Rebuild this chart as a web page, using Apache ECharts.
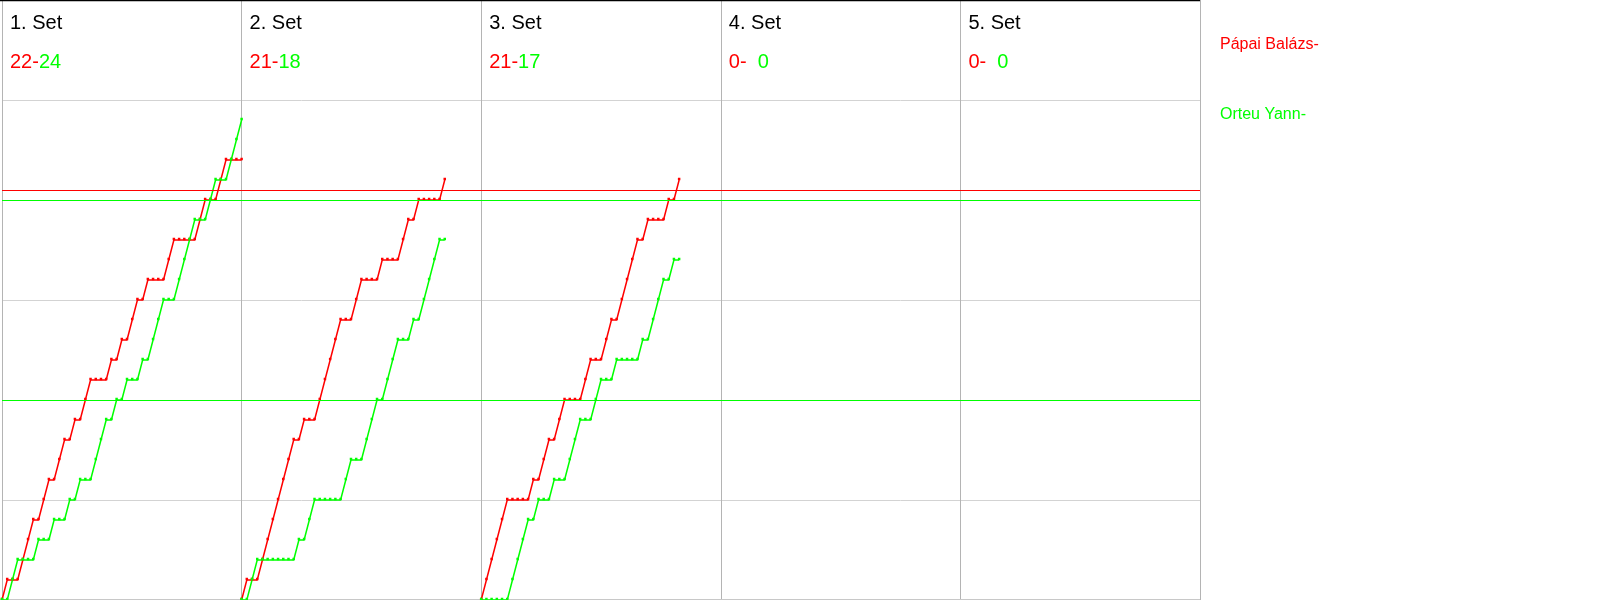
<!DOCTYPE html>
<html>
<head>
<meta charset="utf-8">
<script src="https://cdn.jsdelivr.net/npm/echarts@6/dist/echarts.min.js"></script>
<style>
html,body{margin:0;padding:0;background:#fff;}
#chart{width:1600px;height:600px;}
</style>
</head>
<body>
<div id="chart"></div>
<script>
// ---- data ----
const RALLY_SLOTS = 46;            // x units per set panel
const SCORE_MAX = 30;              // y axis top
const setLabels = ['1. Set', '2. Set', '3. Set', '4. Set', '5. Set'];
const redFinal = [22, 21, 21, 0, 0];
const greenFinal = [24, 18, 17, 0, 0];
const playerRed = 'Pápai Balázs-';
const playerGreen = 'Orteu Yann-';

// cumulative score after each rally (index 0 = start of set)
const set1Red   = [0,1,1,1,2,3,4,4,5,6,6,7,8,8,9,9,10,11,11,11,11,12,12,13,13,14,15,15,16,16,16,16,17,18,18,18,18,18,19,20,20,20,21,22,22,22,22];
const set1Green = [0,0,1,2,2,2,2,3,3,3,4,4,4,5,5,6,6,6,7,8,9,9,10,10,11,11,11,12,12,13,14,15,15,15,16,17,18,19,19,19,20,21,21,21,22,23,24];
const set2Red   = [0,1,1,1,2,3,4,5,6,7,8,8,9,9,9,10,11,12,13,14,14,14,15,16,16,16,16,17,17,17,17,18,19,19,20,20,20,20,20,21];
const set2Green = [0,0,1,2,2,2,2,2,2,2,2,3,3,4,5,5,5,5,5,5,6,7,7,7,8,9,10,10,11,12,13,13,13,14,14,15,16,17,18,18];
const set3Red   = [0,1,2,3,4,5,5,5,5,5,6,6,7,8,8,9,10,10,10,10,11,12,12,12,13,14,14,15,16,17,18,18,19,19,19,19,20,20,21];
const set3Green = [0,0,0,0,0,0,1,2,3,4,4,5,5,5,6,6,6,7,8,9,9,9,10,11,11,11,12,12,12,12,12,13,13,14,15,16,16,17,17];
const set4Red = [];
const set4Green = [];
const set5Red = [];
const set5Green = [];

const redRefLines = [20.5];
const greenRefLines = [20, 10];

// ---- build ----
const RED = '#ff0000', GREEN = '#00ff00';
const FONT = '"Liberation Sans", Arial, sans-serif';
const redSets = [set1Red, set2Red, set3Red, set4Red, set5Red];
const greenSets = [set1Green, set2Green, set3Green, set4Green, set5Green];

function lineSeries(name, arr, k, color, refs) {
  const s = {
    type: 'line',
    name: name,
    data: arr.map((v, i) => [k * RALLY_SLOTS + i, v]),
    symbol: 'rect',
    symbolSize: 2.5,
    symbolOffset: [0, -1],
    showSymbol: true,
    lineStyle: { color: color, width: 1.5 },
    itemStyle: { color: color },
    emphasis: { disabled: true },
    silent: true,
    animation: false,
    z: 3
  };
  if (refs && refs.length) {
    s.markLine = {
      silent: true,
      symbol: ['none', 'none'],
      label: { show: false },
      lineStyle: { color: color, width: 1.2, type: 'solid' },
      emphasis: { disabled: true },
      animation: false,
      data: refs.map(v => ({ yAxis: v }))
    };
  }
  return s;
}

const series = [];
for (let k = 0; k < setLabels.length; k++) {
  series.push(lineSeries(playerRed, redSets[k], k, RED, k === 0 ? redRefLines : null));
  series.push(lineSeries(playerGreen, greenSets[k], k, GREEN, k === 0 ? greenRefLines : null));
}

const GRID_LEFT = 2, GRID_W = 1198, GRID_H = 600;
const panelW = GRID_W / setLabels.length;
const graphics = [];
setLabels.forEach((lab, k) => {
  const x0 = GRID_LEFT + k * panelW + 8;
  graphics.push({
    type: 'text', x: x0, y: 23, silent: true, z: 10,
    style: { text: lab, fill: '#000', font: '20px ' + FONT, verticalAlign: 'middle', align: 'left' }
  });
  graphics.push({
    type: 'text', x: x0, y: 62.5, silent: true, z: 10,
    style: {
      text: '{r|' + redFinal[k] + '-}{g|' + greenFinal[k] + '}',
      verticalAlign: 'middle', align: 'left',
      rich: {
        r: { fill: RED, fontSize: 20, fontFamily: FONT },
        g: { fill: GREEN, fontSize: 20, fontFamily: FONT, width: 22.24, align: 'right' }
      }
    }
  });
});
graphics.push({
  type: 'text', x: 1220, y: 45, silent: true,
  style: { text: playerRed, fill: RED, font: '16px ' + FONT, verticalAlign: 'middle' }
});
graphics.push({
  type: 'text', x: 1220, y: 115, silent: true,
  style: { text: playerGreen, fill: GREEN, font: '16px ' + FONT, verticalAlign: 'middle' }
});
graphics.push({
  type: 'line', silent: true, z: 20,
  shape: { x1: 0, y1: 0.5, x2: 1200, y2: 0.5 },
  style: { stroke: '#000', lineWidth: 1.5 }
});
graphics.push({
  type: 'line', silent: true, z: 1,
  shape: { x1: 0, y1: 599.5, x2: 1200, y2: 599.5 },
  style: { stroke: '#c8c8c8', lineWidth: 1 }
});

const chart = echarts.init(document.getElementById('chart'), null, { renderer: 'canvas' });
chart.setOption({
  animation: false,
  backgroundColor: '#fff',
  grid: { left: GRID_LEFT, top: 0, width: GRID_W, height: GRID_H },
  xAxis: {
    type: 'value', min: 0, max: RALLY_SLOTS * setLabels.length, interval: RALLY_SLOTS,
    axisLine: { show: false }, axisTick: { show: false }, axisLabel: { show: false },
    splitLine: { show: true, lineStyle: { color: '#b4b4b4', width: 1 } }
  },
  yAxis: {
    type: 'value', min: 0, max: SCORE_MAX, interval: 5,
    axisLine: { show: false }, axisTick: { show: false }, axisLabel: { show: false },
    splitLine: { show: true, lineStyle: { color: '#d3d3d3', width: 1 } }
  },
  series: series,
  graphic: graphics
});
</script>
</body>
</html>
